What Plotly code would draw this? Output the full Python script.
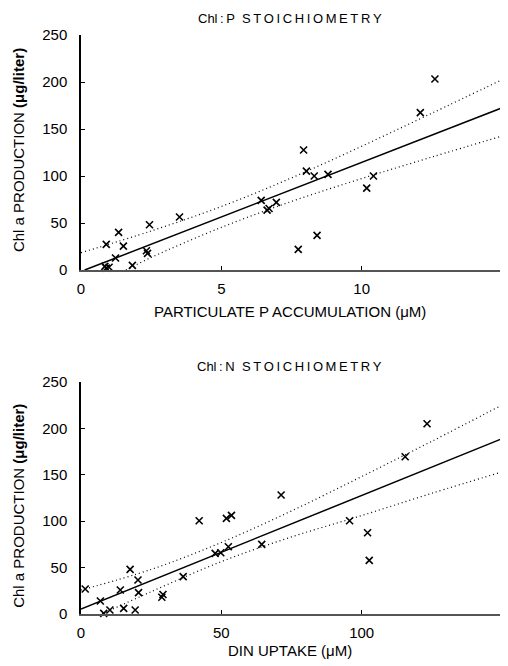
import plotly.graph_objects as go

# ---- Chl:P panel data ----
p_accum = [0.90, 1.34, 1.51, 1.23, 0.90, 1.00, 0.85, 1.83, 2.33, 2.37, 2.44, 3.51,
           6.42, 6.63, 6.70, 6.96, 7.93, 8.03, 8.31, 8.80, 7.74, 8.41, 10.18, 10.42, 12.09, 12.61]
p_chl = [27.3, 40.1, 25.5, 12.8, 2.0, 3.0, 4.0, 5.0, 20.5, 17.7, 48.2, 56.4,
         74.1, 63.8, 65.5, 72.0, 127.7, 105.3, 100.0, 101.8, 22.0, 36.9, 87.2, 100.0, 167.4, 203.2]
p_fit_x = [0.13, 2.5, 5, 7.5, 10, 12.5, 15]
p_fit = [0.0, 27.5, 56.5, 85.5, 114.5, 143.5, 172.5]
p_up_x = [0, 2.5, 5, 7.5, 10, 12.5, 15]
p_up = [18.5, 41.6, 67.6, 98.0, 131.7, 166.8, 202.5]
p_lo_x = [1.6, 2.5, 5, 7.5, 10, 12.5, 15]
p_lo = [0.0, 13.4, 45.4, 73.0, 97.3, 120.2, 142.5]

# ---- Chl:N panel data ----
din_uptake = [1.5, 6.9, 8.1, 10.3, 15.2, 14.0, 19.3, 17.5, 20.3, 20.5, 28.8, 29.2, 36.4,
              42.1, 47.8, 49.8, 52.5, 51.8, 53.6, 64.4, 71.3, 95.7, 102.1, 102.7, 115.5, 123.3]
n_chl = [26.9, 14.0, 0.7, 4.3, 6.1, 25.8, 4.3, 48.1, 36.6, 23.0, 18.0, 21.0, 40.2,
         100.4, 65.3, 66.0, 72.4, 103.0, 106.2, 75.0, 128.1, 100.4, 87.5, 57.8, 169.3, 204.9]
n_fit_x = [0, 25, 50, 75, 100, 125, 150]
n_fit = [5.4, 36.0, 66.5, 97.0, 127.6, 158.0, 188.7]
n_up = [25.8, 48.0, 77.0, 111.0, 148.0, 186.0, 225.0]
n_lo_x = [7.5, 25, 50, 75, 100, 125, 150]
n_lo = [0.0, 24.0, 56.4, 83.0, 106.0, 130.0, 153.0]

y_ticks = [0, 50, 100, 150, 200, 250]
p_ticks = [0, 5, 10, 15]
n_ticks = [0, 50, 100, 150]

FONT = "Liberation Sans, Arial, sans-serif"
marker = dict(symbol="x-thin", size=7, line=dict(width=1.6, color="black"), color="black")

fig = go.Figure()

def add_panel(xs, ys, fx, fy, ux, uy, lx, ly, xa, ya):
    fig.add_trace(go.Scatter(x=fx, y=fy, mode="lines", line=dict(color="black", width=1.5),
                             xaxis=xa, yaxis=ya, showlegend=False, hoverinfo="skip"))
    for bx, by in ((ux, uy), (lx, ly)):
        fig.add_trace(go.Scatter(x=bx, y=by, mode="lines",
                                 line=dict(color="black", width=1.2, dash="1px,3px", shape="spline"),
                                 xaxis=xa, yaxis=ya, showlegend=False, hoverinfo="skip"))
    fig.add_trace(go.Scatter(x=xs, y=ys, mode="markers", marker=marker, cliponaxis=False,
                             xaxis=xa, yaxis=ya, showlegend=False))

add_panel(p_accum, p_chl, p_fit_x, p_fit, p_up_x, p_up, p_lo_x, p_lo, "x", "y")
add_panel(din_uptake, n_chl, n_fit_x, n_fit, n_fit_x, n_up, n_lo_x, n_lo, "x2", "y2")

xcommon = dict(showgrid=False, zeroline=False, showline=True, linecolor="#555", linewidth=2,
               ticks="inside", ticklen=4, tickwidth=1.3, tickcolor="black", automargin=False,
               tickfont=dict(family=FONT, size=15, color="black"), ticklabelstandoff=4)
ycommon = dict(showgrid=False, zeroline=False, showline=True, linecolor="black", linewidth=1.5,
               ticks="inside", ticklen=4, tickwidth=1.3, tickcolor="black", automargin=False,
               tickfont=dict(family=FONT, size=15, color="black"), ticklabelstandoff=9,
               range=[0, 250], tickvals=y_ticks)

# page body has an 8px margin, so the figure is 500x658 and shifted margins
fig.update_layout(
    width=500, height=658,
    margin=dict(l=73, r=6, t=27, b=52, autoexpand=False),
    paper_bgcolor="white", plot_bgcolor="white",
    xaxis=dict(xcommon, domain=[0, 1], range=[0, 15], tickvals=p_ticks, anchor="y"),
    yaxis=dict(ycommon, domain=[0.594, 1.0], anchor="x"),
    xaxis2=dict(xcommon, domain=[0, 1], range=[0, 150], tickvals=n_ticks, anchor="y2"),
    yaxis2=dict(ycommon, domain=[0.0, 0.401], anchor="x2"),
    showlegend=False,
)

def ann(text, x, y, size=14, angle=0):
    fig.add_annotation(text=text, x=x, y=y, xref="paper", yref="paper", showarrow=False,
                       textangle=angle, font=dict(family=FONT, size=size, color="black"),
                       xanchor="center", yanchor="middle")

ann("Chl\u2009:\u2009P  S\u2009T\u2009O\u2009I\u2009C\u2009H\u2009I\u2009O\u2009M\u2009E\u2009T\u2009R\u2009Y", 0.496, 1.029, 13)
ann("PARTICULATE P ACCUMULATION (μM)", 0.496, 0.5216, 15)
ann("Chl\u2009:\u2009N  S\u2009T\u2009O\u2009I\u2009C\u2009H\u2009I\u2009O\u2009M\u2009E\u2009T\u2009R\u2009Y", 0.496, 0.4283, 13)
ann("DIN UPTAKE (μM)", 0.496, -0.0622, 15)
ann("Chl a PRODUCTION <b>(μg/liter)</b>", -0.150, 0.801, 15, -90)
ann("Chl a PRODUCTION <b>(μg/liter)</b>", -0.150, 0.1865, 15, -90)

fig.write_html("out.html")
